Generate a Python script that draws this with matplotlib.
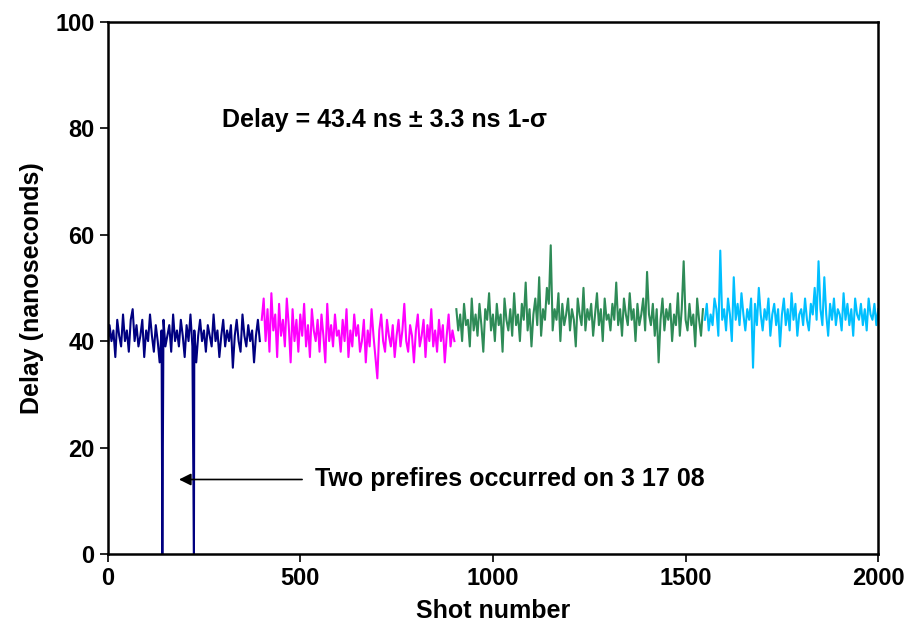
import numpy as np
import matplotlib
matplotlib.use("Agg")
import matplotlib.pyplot as plt

plt.rcParams['font.family'] = ['Liberation Sans', 'DejaVu Sans']

# delay per shot (ns), read every 5th shot off the picture
blue_start, magenta_start, green_start, cyan_start = 0, 400, 905, 1550
step = 5

blue_delay = [38, 43, 40, 42, 37, 44, 41, 39, 45, 40,
              42, 38, 44, 46, 40, 43, 39, 41, 44, 37,
              42, 40, 45, 41, 38, 43, 40, 36, 42, 44,
              39, 41, 43, 38, 45, 40, 42, 39, 44, 41,
              37, 43, 40, 45, 39, 42, 36, 41, 44, 40,
              42, 38, 43, 41, 39, 45, 40, 42, 37, 41,
              44, 39, 42, 40, 43, 35, 41, 44, 40, 38,
              45, 41, 39, 43, 40, 42, 36, 41, 44, 40]

magenta_delay = [44, 48, 40, 46, 38, 49, 42, 45, 37, 47,
                 41, 44, 39, 48, 43, 36, 46, 40, 44, 38,
                 45, 41, 47, 39, 43, 37, 46, 42, 40, 44,
                 38, 45, 41, 36, 47, 40, 43, 39, 45, 41,
                 42, 38, 44, 40, 46, 37, 42, 39, 45, 41,
                 43, 38, 40, 44, 36, 42, 39, 46, 41, 37,
                 33, 42, 45, 40, 38, 44, 41, 39, 43, 37,
                 41, 44, 39, 42, 47, 40, 38, 43, 41, 36,
                 42, 45, 39, 41, 44, 37, 43, 40, 46, 39,
                 42, 38, 44, 40, 43, 36, 41, 45, 39, 42,
                 40]

green_delay = [46, 42, 45, 40, 47, 43, 44, 39, 48, 42,
               45, 41, 47, 43, 38, 46, 44, 49, 42, 45,
               40, 47, 43, 45, 38, 48, 44, 42, 46, 41,
               49, 43, 45, 40, 47, 44, 51, 42, 46, 39,
               45, 48, 43, 52, 41, 46, 44, 50, 47, 58,
               42, 46, 44, 49, 40, 47, 43, 45, 48, 42,
               46, 44, 39, 48, 45, 43, 50, 42, 46, 44,
               47, 41, 45, 49, 43, 46, 40, 48, 44, 45,
               42, 47, 44, 51, 43, 46, 41, 48, 45, 43,
               49, 44, 46, 40, 47, 43, 45, 48, 42, 53,
               45, 43, 47, 41, 46, 36, 44, 48, 42, 46,
               44, 47, 40, 45, 43, 49, 41, 46, 55, 44,
               42, 47, 43, 45, 39, 48, 44, 41, 46]

cyan_delay = [44, 47, 42, 45, 43, 48, 46, 41, 57, 44,
              46, 42, 48, 45, 40, 52, 44, 47, 43, 49,
              45, 42, 46, 44, 48, 35, 47, 43, 50, 45,
              42, 46, 44, 48, 41, 45, 47, 43, 46, 39,
              45, 48, 43, 46, 42, 49, 44, 47, 41, 45,
              46, 43, 48, 44, 42, 47, 45, 50, 44, 55,
              46, 43, 52, 45, 41, 47, 44, 48, 43, 46,
              45, 42, 49, 44, 47, 43, 46, 41, 48, 45,
              44, 47, 43, 46, 42, 48, 45, 44, 47, 43,
              46]

prefire_shots = [142, 224]
prefire_delay = [0, 0]

fig = plt.figure(figsize=(9.12, 6.39), dpi=100)
ax = fig.add_axes([0.118, 0.133, 0.845, 0.833])

# blue run with the two prefires merged in
bx = np.concatenate([np.arange(len(blue_delay)) * step + blue_start, prefire_shots])
by = np.concatenate([blue_delay, prefire_delay])
order = np.argsort(bx, kind='stable')
ax.plot(bx[order], by[order], color='#000080', lw=1.5)

for start, vals, col in [(magenta_start, magenta_delay, '#FF00FF'),
                         (green_start, green_delay, '#2E8B57'),
                         (cyan_start, cyan_delay, '#00BFFF')]:
    x = np.arange(len(vals)) * step + start
    ax.plot(x, vals, color=col, lw=1.5)

ax.set_xlim(0, 2000)
ax.set_ylim(0, 100)
ax.set_xticks([0, 500, 1000, 1500, 2000])
ax.set_yticks([0, 20, 40, 60, 80, 100])
ax.tick_params(direction='out', length=6, width=1.2, labelsize=17)
for lab in ax.get_xticklabels() + ax.get_yticklabels():
    lab.set_fontweight('bold')
for sp in ax.spines.values():
    sp.set_linewidth(1.8)

ax.set_xlabel('Shot number', fontsize=18, fontweight='bold', labelpad=6)
ax.set_ylabel('Delay (nanoseconds)', fontsize=18, fontweight='bold', labelpad=8)

ax.text(296, 81.6, 'Delay = 43.4 ns \u00b1 3.3 ns 1-\u03c3', fontsize=18,
        fontweight='bold', va='center')
ax.annotate('', xy=(178, 14), xytext=(512, 14),
            arrowprops=dict(arrowstyle='-|>', color='black', lw=1.2,
                            mutation_scale=18))
ax.text(538, 14, 'Two prefires occurred on 3 17 08', fontsize=18,
        fontweight='bold', va='center')

fig.savefig('out.png', dpi=100)
